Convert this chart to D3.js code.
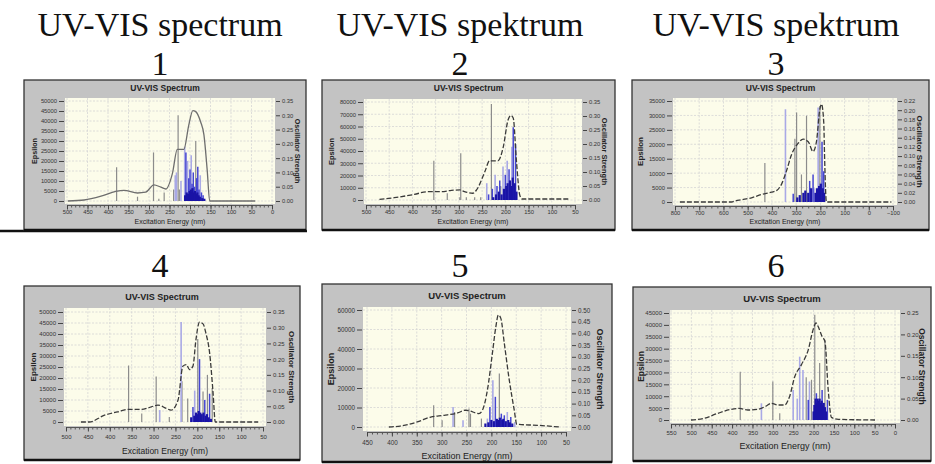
<!DOCTYPE html>
<html><head><meta charset="utf-8">
<script src="https://cdn.jsdelivr.net/npm/d3@7"></script>
<style>body{margin:0;background:#fff}svg{display:block}</style>
</head><body>
<svg id="c" width="935" height="464"></svg>
<script>
// ================= DATA =================
const headerTitles = ["UV-VIS spectrum", "UV-VIS spektrum", "UV-VIS spektrum"];
const panelNumbers = ["1", "2", "3", "4", "5", "6"];
const panelTitle = "UV-VIS Spectrum";
const xAxisTitle = "Excitation Energy (nm)";
const yAxisTitle = "Epsilon";
const y2AxisTitle = "Oscillator Strength";

// tick labels
const xTicks1 = [500,450,400,350,300,250,200,150,100,50,0];
const yTicks1 = [0,5000,10000,15000,20000,25000,30000,35000,40000,45000,50000];
const oTicks1 = [0,0.05,0.10,0.15,0.20,0.25,0.30,0.35];
const xTicks2 = [500,450,400,350,300,250,200,150,100,50];
const yTicks2 = [0,10000,20000,30000,40000,50000,60000,70000,80000];
const oTicks2 = [0,0.05,0.10,0.15,0.20,0.25,0.30,0.35];
const xTicks3 = [800,700,600,500,400,300,200,100,0,-100];
const yTicks3 = [0,5000,10000,15000,20000,25000,30000,35000];
const oTicks3 = [0,0.02,0.04,0.06,0.08,0.10,0.12,0.14,0.16,0.18,0.20,0.22];
const xTicks4 = [500,450,400,350,300,250,200,150,100,50];
const yTicks4 = [0,5000,10000,15000,20000,25000,30000,35000,40000,45000,50000];
const oTicks4 = [0,0.05,0.10,0.15,0.20,0.25,0.30,0.35];
const xTicks5 = [450,400,350,300,250,200,150,100,50];
const yTicks5 = [0,10000,20000,30000,40000,50000,60000];
const oTicks5 = [0,0.05,0.10,0.15,0.20,0.25,0.30,0.35,0.40,0.45,0.50];
const xTicks6 = [550,500,450,400,350,300,250,200,150,100,50,0];
const yTicks6 = [0,5000,10000,15000,20000,25000,30000,35000,40000,45000];
const oTicks6 = [0,0.05,0.10,0.15,0.20,0.25];

// spectra: [wavelength nm, epsilon]
const curve1 = [[498,0],[458,500],[417,2400],[381,4800],[361,5300],[328,4000],[308,4400],[288,8100],[271,6900],[259,6000],[243,13700],[231,25800],[215,25800],[203,37900],[193,45200],[186,44700],[174,39500],[166,33100],[158,15300],[152,0],[41,0]];
const curve2 = [[471,500],[439,1900],[396,4600],[367,6800],[338,6800],[316,7900],[298,8200],[288,6800],[270,5500],[262,8200],[244,23200],[234,32000],[216,32000],[205,42300],[194,65500],[188,69000],[183,67000],[176,31400],[169,4100],[164,800],[64,800]];
const curve3 = [[780,0],[676,0],[566,0],[553,340],[525,790],[484,1470],[443,2600],[402,3400],[381,3950],[360,6200],[340,10700],[319,16400],[292,20300],[271,21800],[250,20900],[230,17500],[216,20900],[202,32200],[195,33900],[186,27700],[182,14100],[175,0],[-93,0]];
const curve4 = [[466,0],[447,0],[412,3100],[382,4600],[359,5700],[328,5700],[305,6900],[290,7700],[271,6200],[260,5400],[244,10000],[233,25400],[225,26100],[218,23800],[210,25400],[203,37700],[195,45400],[187,44600],[180,40000],[172,31500],[164,13100],[159,0],[61,0]];
const curve5 = [[406,0],[383,500],[349,2600],[322,5100],[295,6000],[268,7200],[252,8600],[242,8200],[232,7200],[225,6900],[218,8600],[208,18900],[198,37700],[191,51400],[186,57400],[181,55700],[174,42900],[164,24000],[154,8600],[149,1400],[107,860],[63,0]];
const curve6 = [[501,0],[468,700],[435,2800],[402,4500],[382,4900],[361,4200],[337,4500],[316,5900],[304,7000],[287,6300],[271,6300],[259,9800],[246,18300],[230,23200],[213,29500],[201,38000],[194,40800],[189,39400],[179,35100],[172,33000],[164,12700],[156,1100],[139,300],[49,0]];

// transitions: [wavelength nm, oscillator strength]
const gray1 = [[379,0.118],[328,0.015],[289,0.17],[276,0.008],[263,0.03],[240,0.04],[229,0.30],[226,0.04],[186,0.21]];
const lav1  = [[236,0.09],[233,0.10],[222,0.07],[213,0.19],[206,0.14],[197,0.16],[175,0.09]];
const blue1 = [[210,0.17],[203,0.08],[200,0.11],[195,0.06],[192,0.10],[189,0.05],[184,0.08],[181,0.12],[178,0.04],[172,0.03],[168,0.02]];
const dark1 = [[212,0.02],[208,0.03],[205,0.025],[201,0.035],[198,0.04],[196,0.03],[194,0.045],[191,0.03],[188,0.035],[185,0.025],[182,0.03],[179,0.02],[176,0.015],[170,0.01],[165,0.008]];

const gray2 = [[354,0.14],[325,0.024],[298,0.01],[296,0.167],[284,0.01],[266,0.01],[253,0.01],[230,0.343],[210,0.05]];
const lav2  = [[240,0.06],[222,0.09],[205,0.12],[196,0.14],[186,0.19]];
const blue2 = [[236,0.02],[228,0.04],[218,0.05],[212,0.07],[200,0.09],[192,0.11],[183,0.26],[178,0.20]];
const dark2 = [[226,0.01],[220,0.02],[214,0.03],[208,0.02],[203,0.04],[198,0.05],[195,0.06],[190,0.07],[187,0.05],[184,0.08],[180,0.06],[176,0.03]];

const gray3 = [[429,0.085],[305,0.138],[298,0.195],[278,0.06],[257,0.188],[202,0.209]];
const lav3  = [[344,0.202],[209,0.206],[226,0.03]];
const blue3 = [[312,0.018],[244,0.046],[230,0.06],[193,0.131],[186,0.067]];
const dark3 = [[295,0.01],[285,0.015],[270,0.02],[262,0.025],[250,0.02],[238,0.03],[220,0.02],[214,0.03],[205,0.035],[198,0.04],[190,0.03],[184,0.02]];

const gray4 = [[357,0.18],[327,0.027],[294,0.145],[264,0.016],[235,0.13],[222,0.075],[199,0.264],[187,0.097],[177,0.15],[166,0.108]];
const lav4  = [[286,0.038],[237,0.318],[206,0.10]];
const blue4 = [[210,0.048],[195,0.20],[183,0.07],[172,0.09]];
const dark4 = [[214,0.015],[207,0.02],[203,0.03],[200,0.025],[197,0.035],[193,0.03],[190,0.025],[186,0.03],[181,0.02],[178,0.025],[174,0.015],[169,0.01]];

const gray5 = [[316,0.093],[299,0.029],[274,0.064],[245,0.079],[242,0.057],[220,0.036],[184,0.229]];
const lav5  = [[277,0.086],[257,0.029],[208,0.036],[197,0.20],[168,0.064],[153,0.021]];
const blue5 = [[203,0.086],[192,0.129],[180,0.057],[174,0.05],[161,0.043]];
const dark5 = [[212,0.015],[206,0.02],[200,0.03],[195,0.025],[189,0.035],[186,0.03],[183,0.04],[178,0.03],[176,0.035],[171,0.025],[166,0.03],[163,0.02],[158,0.015]];

const gray6 = [[380,0.113],[300,0.09],[283,0.016],[218,0.10],[205,0.094],[197,0.246],[185,0.133],[172,0.1875]];
const lav6  = [[328,0.039],[250,0.07],[240,0.05],[234,0.148],[226,0.117],[210,0.09]];
const blue6 = [[213,0.047],[193,0.0625],[179,0.07],[166,0.047]];
const dark6 = [[200,0.02],[198,0.035],[195,0.05],[192,0.04],[190,0.05],[187,0.045],[185,0.05],[182,0.04],[180,0.045],[177,0.035],[175,0.04],[172,0.03],[169,0.02]];

// ================= LAYOUT / DRAW =================
const svg = d3.select("#c");
const serif = "'Liberation Serif','Times New Roman',serif";
const sans = "'Liberation Sans',Arial,sans-serif";

const headerX = [160, 460, 776];
headerTitles.forEach((t,i)=>{
  svg.append("text").attr("x",headerX[i]).attr("y",36).attr("text-anchor","middle")
    .attr("font-family",serif).attr("font-size",34).attr("fill","#111").text(t);
});
panelNumbers.forEach((t,i)=>{
  svg.append("text").attr("x",headerX[i%3]).attr("y", i<3 ? 75 : 277).attr("text-anchor","middle")
    .attr("font-family",serif).attr("font-size",34).attr("fill","#111").text(t);
});

const panels = [
 {box:[24,80,306,230], plot:[65,98,275,204], xr:[67,272], yr:[201,101], xT:xTicks1, yT:yTicks1, oT:oTicks1, yMax:50000, oMax:0.35, minor:10,
  titleY:91, xLabY:212, xTitleY:222, epsX:34, oscX:298, fs:5.8, tfs:8.5, afs:7, lfs:7.2, curve:curve1, gray:gray1, lav:lav1, blue:blue1, dark:dark1, dashed:false},
 {box:[322,80,615,230], plot:[364,99,582,204], xr:[366,575], yr:[200,102], xT:xTicks2, yT:yTicks2, oT:oTicks2, yMax:80000, oMax:0.35, minor:10,
  titleY:91, xLabY:212, xTitleY:222, epsX:331, oscX:605, fs:5.8, tfs:8.5, afs:7, lfs:7.5, curve:curve2, gray:gray2, lav:lav2, blue:blue2, dark:dark2, dashed:true},
 {box:[632,80,929,230], plot:[673,98,897,205], xr:[675,893], yr:[202,101], xT:xTicks3, yT:yTicks3, oT:oTicks3, yMax:35000, oMax:0.22, minor:25,
  titleY:91, xLabY:213, xTitleY:222, epsX:640, oscX:920, fs:5.8, tfs:8.5, afs:7, lfs:8, curve:curve3, gray:gray3, lav:lav3, blue:blue3, dark:dark3, dashed:true},
 {box:[24,286,300,460], plot:[64,308,266,426], xr:[66,263], yr:[422,312], xT:xTicks4, yT:yTicks4, oT:oTicks4, yMax:50000, oMax:0.35, minor:10,
  titleY:300, xLabY:437, xTitleY:451, epsX:33, oscX:292, fs:6, tfs:9, afs:8.5, lfs:8, curve:curve4, gray:gray4, lav:lav4, blue:blue4, dark:dark4, dashed:true},
 {box:[322,284,612,462], plot:[363,307,571,431], xr:[367,566], yr:[427,310], xT:xTicks5, yT:yTicks5, oT:oTicks5, yMax:60000, oMax:0.50, minor:10,
  titleY:299, xLabY:443, xTitleY:456, epsX:331, oscX:600, fs:6.3, tfs:9.5, afs:9, lfs:9, curve:curve5, gray:gray5, lav:lav5, blue:blue5, dark:dark5, dashed:true},
 {box:[633,287,931,461], plot:[670,310,900,423], xr:[671,895], yr:[420,313], xT:xTicks6, yT:yTicks6, oT:oTicks6, yMax:45000, oMax:0.25, minor:10,
  titleY:302, xLabY:433, xTitleY:446, epsX:641, oscX:922, fs:6, tfs:9.5, afs:9, lfs:8.5, curve:curve6, gray:gray6, lav:lav6, blue:blue6, dark:dark6, dashed:true}
];

// long rule under the first panel row (left)
svg.append("line").attr("x1",0).attr("x2",307).attr("y1",231).attr("y2",231).attr("stroke","#111").attr("stroke-width",2.5);

panels.forEach((p,pi)=>{
  const [bx0,by0,bx1,by1] = p.box;
  const [pl,pt,pr,pb] = p.plot;
  const g = svg.append("g");
  g.append("rect").attr("x",bx0).attr("y",by0).attr("width",bx1-bx0).attr("height",by1-by0)
    .attr("fill","#c3c3c3").attr("stroke","#333").attr("stroke-width",1.3);
  g.append("line").attr("x1",bx0).attr("x2",bx1).attr("y1",by1).attr("y2",by1).attr("stroke","#111").attr("stroke-width",2.5);
  g.append("rect").attr("x",pl).attr("y",pt).attr("width",pr-pl).attr("height",pb-pt).attr("fill","#fcfcea");

  const x = d3.scaleLinear().domain([p.xT[0], p.xT[p.xT.length-1]]).range(p.xr);
  const y = d3.scaleLinear().domain([0,p.yMax]).range(p.yr);
  const o = d3.scaleLinear().domain([0,p.oMax]).range(p.yr);

  // grid
  g.append("g").selectAll("line").data(p.xT).join("line")
    .attr("x1",d=>x(d)).attr("x2",d=>x(d)).attr("y1",pt).attr("y2",pb)
    .attr("stroke","#d4d4d4").attr("stroke-width",0.8).attr("stroke-dasharray","2,1.5");
  g.append("g").selectAll("line").data(p.yT).join("line")
    .attr("x1",pl).attr("x2",pr).attr("y1",d=>y(d)).attr("y2",d=>y(d))
    .attr("stroke","#d4d4d4").attr("stroke-width",0.8).attr("stroke-dasharray","2,1.5");

  const clipId = "clip"+pi;
  g.append("clipPath").attr("id",clipId).append("rect").attr("x",pl).attr("y",pt).attr("width",pr-pl).attr("height",pb-pt);
  const inner = g.append("g").attr("clip-path",`url(#${clipId})`);

  // transitions (sticks)
  const stickSets = [[p.gray,"#8c8c8c",1.2],[p.lav,"#a9a9e6",1.6],[p.blue,"#4545d2",1.5],[p.dark,"#1a14a6",2.2]];
  stickSets.forEach(([data,col,w])=>{
    inner.append("g").selectAll("line").data(data).join("line")
      .attr("x1",d=>x(d[0])).attr("x2",d=>x(d[0])).attr("y1",o(0)).attr("y2",d=>o(d[1]))
      .attr("stroke",col).attr("stroke-width",w);
  });

  // spectrum curve
  const line = d3.line().x(d=>x(d[0])).y(d=>y(d[1])).curve(d3.curveMonotoneX);
  inner.append("path").datum(p.curve).attr("d",line).attr("fill","none")
    .attr("stroke", p.dashed ? "#3a3a3a" : "#6e6e6e").attr("stroke-width",1.3)
    .attr("stroke-dasharray", p.dashed ? "5,2" : null);

  // left axis
  const la = g.append("g").attr("transform",`translate(${pl-1},0)`)
    .call(d3.axisLeft(y).tickValues(p.yT).tickSize(5).tickPadding(2).tickFormat(d3.format("d")));
  la.select(".domain").remove();
  la.selectAll("line").attr("stroke","#444");
  la.selectAll("text").attr("font-family",sans).attr("font-size",p.fs).attr("fill","#333");

  // right axis
  const ra = g.append("g").attr("transform",`translate(${pr+1},0)`)
    .call(d3.axisRight(o).tickValues(p.oT).tickSize(4).tickPadding(2).tickFormat(d3.format(".2f")));
  ra.select(".domain").remove();
  ra.selectAll("line").attr("stroke","#444");
  ra.selectAll("text").attr("font-family",sans).attr("font-size",p.fs).attr("fill","#333");

  // bottom ruler: minor + major ticks
  const d0 = p.xT[0], d1 = p.xT[p.xT.length-1];
  const minorVals = d3.range(Math.min(d0,d1), Math.max(d0,d1)+0.001, p.minor);
  const ma = g.append("g").attr("transform",`translate(0,${pb+1})`)
    .call(d3.axisBottom(x).tickValues(minorVals).tickSize(2.5).tickFormat(""));
  ma.select(".domain").attr("stroke","#555");
  ma.selectAll("line").attr("stroke","#555");
  const ba = g.append("g").attr("transform",`translate(0,${pb+1})`)
    .call(d3.axisBottom(x).tickValues(p.xT).tickSize(4.5).tickFormat(d3.format("d")));
  ba.select(".domain").remove();
  ba.selectAll("line").attr("stroke","#444");
  ba.selectAll("text").attr("font-family",sans).attr("font-size",p.fs).attr("fill","#333")
    .attr("y", p.xLabY-(pb+1)).attr("dy","0.35em");

  // titles
  const cx = (bx0+bx1)/2;
  g.append("text").attr("x",cx).attr("y",p.titleY).attr("text-anchor","middle")
    .attr("font-family",sans).attr("font-weight","bold").attr("font-size",p.tfs).attr("fill","#222").text(panelTitle);
  g.append("text").attr("x",(pl+pr)/2).attr("y",p.xTitleY).attr("text-anchor","middle").attr("dy","0.35em")
    .attr("font-family",sans).attr("font-size",p.afs).attr("fill","#222").text(xAxisTitle);
  const midY = (pt+pb)/2;
  g.append("text").attr("transform",`translate(${p.epsX},${midY}) rotate(-90)`).attr("text-anchor","middle").attr("dy","0.35em")
    .attr("font-family",sans).attr("font-weight","bold").attr("font-size",p.lfs).attr("fill","#222").text(yAxisTitle);
  g.append("text").attr("transform",`translate(${p.oscX},${midY}) rotate(90)`).attr("text-anchor","middle").attr("dy","0.35em")
    .attr("font-family",sans).attr("font-weight","bold").attr("font-size",p.lfs).attr("fill","#222").text(y2AxisTitle);
});
</script>
</body></html>
